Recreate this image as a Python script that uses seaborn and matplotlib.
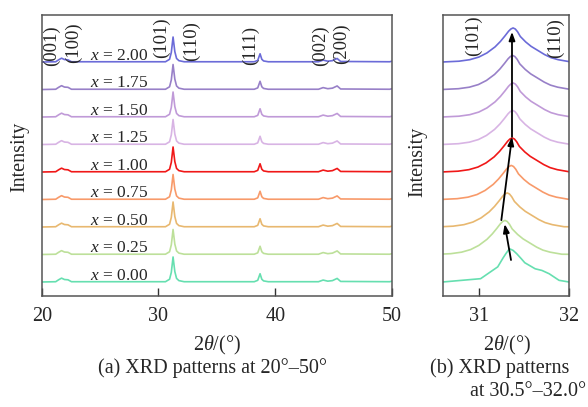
import matplotlib
matplotlib.use("Agg")
import matplotlib.pyplot as plt
import seaborn as sns
import pandas as pd

# ---------------- data ----------------
compositions = ["0.00", "0.25", "0.50", "0.75", "1.00", "1.25", "1.50", "1.75", "2.00"]
colors = ["#66dfb0", "#bde09a", "#e8b870", "#f89a6a", "#f01818",
          "#d8b4e4", "#c09ad8", "#9880c8", "#6b6bd8"]

# (a) full pattern 20-50 deg: profile (relative intensity)
left_2theta = [20.0, 21.2, 21.45, 21.7, 21.95, 22.25, 22.55, 30.6, 30.95, 31.1, 31.25,
               31.4, 31.55, 31.75, 32.2, 38.2, 38.5, 38.7, 38.85, 39.0, 39.4,
               43.7, 44.1, 44.5, 44.9, 45.3, 45.6, 49.8, 50.0]
left_intensity = [0.0, 0.01, 0.08, 0.14, 0.09, 0.08, 0.01, 0.01, 0.1, 0.35, 0.91,
                  0.38, 0.13, 0.05, 0.01, 0.01, 0.06, 0.30, 0.10, 0.04, 0.01,
                  0.01, 0.07, 0.03, 0.05, 0.13, 0.02, 0.01, 0.03]

# (b) zoom 30.6-32.0 deg: shared peak profile (offset from peak centre) and per-sample centres
right_dx = [-1.0, -0.79, -0.6, -0.48, -0.38, -0.29, -0.2, -0.14, -0.09, -0.05, -0.025, 0.0,
            0.025, 0.05, 0.08, 0.14, 0.20, 0.28, 0.35, 0.42, 0.50, 0.63, 0.9]
right_profile = [0.0, 0.0, 0.03, 0.085, 0.18, 0.33, 0.55, 0.75, 0.95, 1.12, 1.2, 1.24,
                 1.2, 1.1, 0.93, 0.73, 0.57, 0.41, 0.27, 0.16, 0.085, 0.01, 0.0]
right_centres = [31.33, 31.29, 31.315, 31.36, 31.37, 31.375, 31.38, 31.375, 31.38]
# x = 0.00 has its own shape (shoulder near 31.7)
x000_2theta = [30.6, 31.02, 31.21, 31.27, 31.30, 31.34, 31.38, 31.42, 31.47, 31.51,
               31.625, 31.70, 31.78, 31.89, 32.0]
x000_intensity = [0.0, 0.12, 0.55, 0.88, 1.03, 1.21, 1.15, 1.03, 0.85, 0.70,
                  0.48, 0.42, 0.30, 0.06, 0.0]

left_peaks = ["(001)", "(100)", "(101)", "(110)", "(111)", "(002)", "(200)"]
left_peak_x = [20.86, 22.7, 30.28, 32.86, 37.85, 43.85, 45.7]
left_peak_y = [8.6, 8.7, 8.88, 8.75, 8.62, 8.58, 8.66]
right_peaks = ["(101)", "(110)"]
right_peak_x = [30.945, 31.846]
right_peak_y = [8.95, 8.88]

# shift arrows in (b): (tail x, tail y, head x, head y)
arrows = [(31.357, 0.80, 31.287, 2.11),
          (31.25, 2.25, 31.368, 5.28),
          (31.368, 5.28, 31.368, 9.10)]

spacing = 1.0

# ---------------- style ----------------
sns.set_style("ticks")
plt.rcParams["font.family"] = ["Liberation Serif", "DejaVu Serif"]
plt.rcParams["mathtext.fontset"] = "custom"
plt.rcParams["mathtext.rm"] = "Liberation Serif"
plt.rcParams["mathtext.it"] = "Liberation Serif:italic"

FS = 14.5

rows_a = []
rows_b = []
for i, comp in enumerate(compositions):
    for xx, yy in zip(left_2theta, left_intensity):
        rows_a.append({"two_theta": xx, "I": yy + i * spacing, "comp": comp})
    if comp == "0.00":
        for xx, yy in zip(x000_2theta, x000_intensity):
            rows_b.append({"two_theta": xx, "I": yy + i * spacing, "comp": comp})
    else:
        for dx, yy in zip(right_dx, right_profile):
            rows_b.append({"two_theta": right_centres[i] + dx, "I": yy + i * spacing, "comp": comp})
df_a = pd.DataFrame(rows_a)
df_b = pd.DataFrame(rows_b)
palette = dict(zip(compositions, colors))

fig = plt.figure(figsize=(5.88, 4.07), dpi=100)
ax1 = fig.add_axes([0.0709, 0.2727, 0.5958, 0.6904])
ax2 = fig.add_axes([0.7529, 0.2727, 0.2148, 0.6904])

sns.lineplot(data=df_a, x="two_theta", y="I", hue="comp", palette=palette,
             estimator=None, sort=False, legend=False, lw=1.2, ax=ax1)
sns.lineplot(data=df_b, x="two_theta", y="I", hue="comp", palette=palette,
             estimator=None, sort=False, legend=False, lw=1.2, ax=ax2)

for ax in (ax1, ax2):
    ax.set_ylim(-0.51, 9.71)
    ax.set_yticks([])
    ax.set_xlabel("")
    ax.set_ylabel("")
    for sp in ax.spines.values():
        sp.set_visible(True)
        sp.set_color("#555555")
        sp.set_linewidth(1.1)
    ax.tick_params(axis="x", direction="in", length=6, width=1.0, color="#333333",
                   labelsize=FS, pad=8, top=False)
    ax.tick_params(axis="y", left=False, right=False)

ax1.set_xlim(20, 50)
ax1.set_xticks([20, 30, 40, 50])
ax2.set_xlim(30.6, 32.0)
ax2.set_xticks([31, 32])

for i, comp in enumerate(compositions):
    ax1.text(26.65, i * spacing + 0.08, f"$x$ = {comp}", ha="center", va="baseline",
             fontsize=12.5)

for lab, px, py in zip(left_peaks, left_peak_x, left_peak_y):
    ax1.text(px, py, lab, rotation=90, ha="center", va="center", fontsize=13.5)
for lab, px, py in zip(right_peaks, right_peak_x, right_peak_y):
    ax2.text(px, py, lab, rotation=90, ha="center", va="center", fontsize=13.5)

for (x0, y0, x1, y1) in arrows:
    ax2.annotate("", xy=(x1, y1), xytext=(x0, y0),
                 arrowprops=dict(arrowstyle="-|>,head_length=0.5,head_width=0.18",
                                 color="black", lw=1.3, shrinkA=0, shrinkB=0))

# axis labels and captions
fig.text(20 / 588, 1 - 157 / 407, "Intensity", rotation=90, ha="center", va="center", fontsize=FS)
fig.text(418 / 588, 1 - 162 / 407, "Intensity", rotation=90, ha="center", va="center", fontsize=FS)
fig.text(217 / 588, 1 - 345 / 407, "2$\\theta$/(°)", ha="center", va="center", fontsize=FS)
fig.text(507 / 588, 1 - 345 / 407, "2$\\theta$/(°)", ha="center", va="center", fontsize=FS)
fig.text(212 / 588, 1 - 368 / 407, "(a) XRD patterns at 20°–50°", ha="center", va="center", fontsize=FS)
fig.text(430 / 588, 1 - 368 / 407, "(b) XRD patterns", ha="left", va="center", fontsize=FS)
fig.text(586 / 588, 1 - 392 / 407, "at 30.5°–32.0°", ha="right", va="center", fontsize=FS)

fig.savefig("out.png", dpi=100)
